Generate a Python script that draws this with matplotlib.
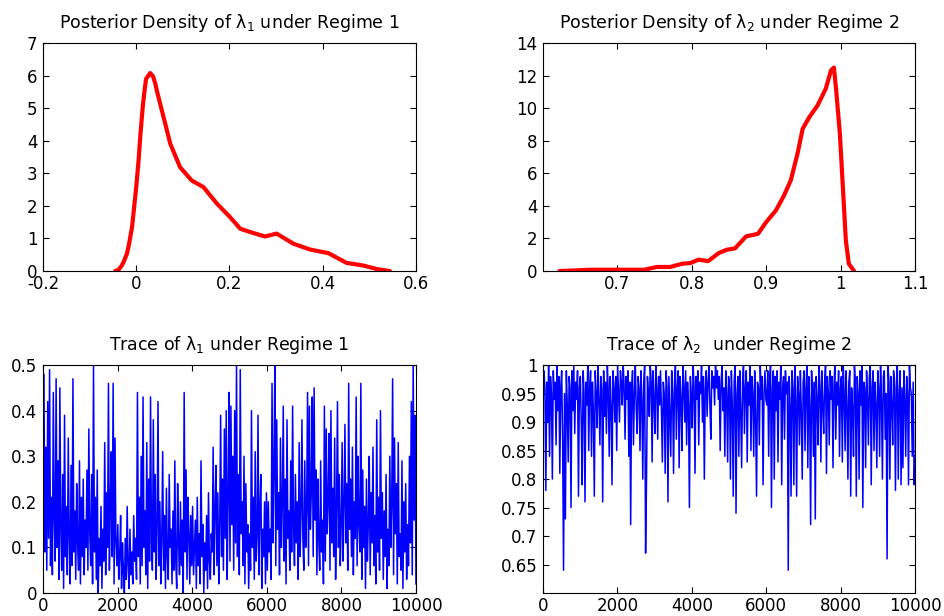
import numpy as np
import matplotlib
matplotlib.use('Agg')
import matplotlib.pyplot as plt

plt.rcParams['font.family'] = ['DejaVu Sans']
plt.rcParams['mathtext.fontset'] = 'dejavusans'
plt.rcParams['mathtext.default'] = 'regular'

# 后验密度曲线
dens1_x = [-0.045, -0.038, -0.031, -0.027, -0.02, -0.016, -0.009, -0.006, 0.0, 0.005,
           0.009, 0.014, 0.017, 0.021, 0.03, 0.036, 0.041, 0.044, 0.055,
           0.073, 0.094, 0.119, 0.144, 0.173, 0.201, 0.223, 0.244, 0.276, 0.301,
           0.337, 0.373, 0.412, 0.451, 0.487, 0.516, 0.544]
dens1_y = [0.0, 0.04, 0.17, 0.28, 0.53, 0.79, 1.35, 1.76, 2.58, 3.4,
           4.2, 5.05, 5.44, 5.9, 6.08, 5.98, 5.75, 5.55, 4.93,
           3.91, 3.19, 2.78, 2.58, 2.07, 1.66, 1.30, 1.20, 1.06, 1.15,
           0.84, 0.66, 0.55, 0.25, 0.17, 0.06, 0.0]

dens2_x = [0.622, 0.664, 0.736, 0.753, 0.771, 0.787, 0.798, 0.809, 0.822, 0.836,
           0.847, 0.858, 0.873, 0.889, 0.900, 0.913, 0.924, 0.933, 0.942, 0.949,
           0.958, 0.969, 0.980, 0.987, 0.991, 0.994, 0.999, 1.003, 1.007, 1.011, 1.018]
dens2_y = [0.0, 0.08, 0.08, 0.25, 0.25, 0.45, 0.49, 0.70, 0.61, 1.10,
           1.31, 1.39, 2.13, 2.29, 3.01, 3.72, 4.65, 5.57, 7.2, 8.74,
           9.46, 10.17, 11.2, 12.32, 12.5, 11.1, 8.43, 5.16, 1.88, 0.45, 0.0]

# 迭代轨迹 (每个值约代表 25 次迭代, 读图估计)
trace1 = [0.18, 0.48, 0.09, 0.32, 0.05, 0.42, 0.12, 0.49, 0.06, 0.21, 0.04, 0.44, 0.16, 0.07, 0.47, 0.10, 0.29, 0.03, 0.45, 0.14,
          0.05, 0.26, 0.01, 0.39, 0.08, 0.19, 0.04, 0.34, 0.12, 0.02, 0.28, 0.06, 0.47, 0.09, 0.18, 0.03, 0.24, 0.11, 0.05, 0.29,
          0.02, 0.21, 0.08, 0.25, 0.04, 0.16, 0.10, 0.27, 0.05, 0.36, 0.13, 0.06, 0.26, 0.02, 0.50, 0.09, 0.21, 0.03, 0.27, 0.00,
          0.12, 0.06, 0.19, 0.01, 0.14, 0.07, 0.33, 0.04, 0.22, 0.10, 0.46, 0.05, 0.19, 0.31, 0.08, 0.46, 0.02, 0.34, 0.11, 0.06,
          0.15, 0.03, 0.08, 0.17, 0.01, 0.11, 0.05, 0.00, 0.12, 0.03, 0.19, 0.06, 0.01, 0.14, 0.04, 0.09, 0.02, 0.17, 0.07, 0.12,
          0.03, 0.44, 0.08, 0.21, 0.02, 0.30, 0.06, 0.43, 0.10, 0.18, 0.04, 0.33, 0.01, 0.25, 0.07, 0.43, 0.12, 0.05, 0.38, 0.09,
          0.26, 0.03, 0.14, 0.42, 0.06, 0.20, 0.02, 0.12, 0.31, 0.05, 0.17, 0.01, 0.23, 0.08, 0.03, 0.26, 0.10, 0.14, 0.02, 0.18,
          0.05, 0.29, 0.07, 0.01, 0.24, 0.11, 0.04, 0.20, 0.06, 0.16, 0.00, 0.44, 0.09, 0.27, 0.03, 0.21, 0.13, 0.02, 0.17, 0.06,
          0.19, 0.04, 0.10, 0.16, 0.01, 0.21, 0.06, 0.13, 0.02, 0.29, 0.08, 0.15, 0.00, 0.11, 0.05, 0.17, 0.01, 0.22, 0.07, 0.03,
          0.13, 0.09, 0.32, 0.04, 0.18, 0.28, 0.06, 0.22, 0.02, 0.14, 0.39, 0.08, 0.25, 0.05, 0.36, 0.12, 0.40, 0.03, 0.21, 0.44,
          0.07, 0.41, 0.15, 0.30, 0.05, 0.40, 0.11, 0.50, 0.08, 0.26, 0.04, 0.49, 0.13, 0.20, 0.06, 0.30, 0.02, 0.24, 0.09, 0.15,
          0.01, 0.13, 0.05, 0.40, 0.10, 0.21, 0.03, 0.31, 0.07, 0.12, 0.39, 0.04, 0.18, 0.26, 0.01, 0.14, 0.08, 0.20, 0.02, 0.22,
          0.05, 0.20, 0.09, 0.14, 0.03, 0.46, 0.11, 0.27, 0.50, 0.06, 0.38, 0.14, 0.22, 0.04, 0.34, 0.10, 0.19, 0.41, 0.07, 0.25,
          0.02, 0.38, 0.12, 0.18, 0.05, 0.29, 0.09, 0.41, 0.15, 0.06, 0.26, 0.11, 0.20, 0.03, 0.33, 0.08, 0.17, 0.38, 0.12, 0.05,
          0.29, 0.10, 0.18, 0.44, 0.06, 0.41, 0.14, 0.22, 0.43, 0.08, 0.45, 0.16, 0.27, 0.04, 0.25, 0.12, 0.05, 0.29, 0.09, 0.16,
          0.02, 0.41, 0.07, 0.36, 0.13, 0.20, 0.35, 0.05, 0.40, 0.11, 0.23, 0.08, 0.34, 0.03, 0.18, 0.42, 0.10, 0.26, 0.06, 0.15,
          0.33, 0.07, 0.19, 0.37, 0.11, 0.24, 0.05, 0.46, 0.14, 0.25, 0.08, 0.32, 0.04, 0.20, 0.12, 0.43, 0.06, 0.30, 0.15, 0.09,
          0.46, 0.03, 0.27, 0.10, 0.19, 0.01, 0.25, 0.07, 0.15, 0.30, 0.04, 0.22, 0.11, 0.32, 0.06, 0.17, 0.02, 0.38, 0.09, 0.21,
          0.05, 0.40, 0.12, 0.22, 0.03, 0.18, 0.08, 0.26, 0.01, 0.14, 0.06, 0.30, 0.10, 0.19, 0.47, 0.04, 0.34, 0.13, 0.24, 0.02,
          0.33, 0.08, 0.13, 0.05, 0.29, 0.01, 0.20, 0.09, 0.24, 0.03, 0.15, 0.06, 0.30, 0.11, 0.42, 0.04, 0.50, 0.16, 0.39, 0.02]

trace2 = [0.93, 0.99, 0.96, 0.78, 0.97, 0.90, 1.00, 0.84, 0.98, 0.95, 0.80, 0.99, 0.94, 0.97, 0.86, 1.00, 0.92, 0.98, 0.81, 0.96,
          0.99, 0.87, 0.64, 0.95, 0.73, 0.99, 0.93, 0.83, 0.98, 0.96, 0.75, 0.99, 0.92, 1.00, 0.88, 0.97, 0.94, 0.99, 0.77, 0.96,
          0.98, 0.90, 0.79, 0.99, 0.95, 0.76, 0.97, 0.93, 1.00, 0.85, 0.96, 0.99, 0.84, 0.97, 0.92, 0.77, 0.99, 0.95, 0.89, 1.00,
          0.94, 0.86, 0.98, 0.96, 0.76, 0.99, 0.91, 0.97, 0.88, 1.00, 0.95, 0.84, 0.98, 0.93, 0.79, 0.99, 0.96, 0.90, 0.98, 0.85,
          1.00, 0.95, 0.90, 0.99, 0.97, 0.93, 1.00, 0.96, 0.87, 0.98, 0.94, 0.99, 0.84, 0.97, 0.72, 0.96, 0.99, 0.86, 0.95, 1.00,
          0.92, 0.88, 0.98, 0.96, 0.85, 0.99, 0.94, 0.80, 0.97, 1.00, 0.67, 0.80, 0.98, 0.95, 0.91, 1.00, 0.97, 0.83, 0.99, 0.94,
          0.88, 1.00, 0.96, 0.87, 0.98, 0.93, 0.99, 0.92, 0.83, 0.97, 0.95, 0.81, 0.99, 0.96, 0.76, 0.98, 0.91, 0.84, 0.99, 0.95,
          0.81, 0.97, 1.00, 0.87, 0.96, 0.99, 0.82, 0.98, 0.94, 0.85, 1.00, 0.96, 0.90, 0.99, 0.86, 0.97, 0.93, 0.75, 0.98, 0.95,
          0.89, 1.00, 0.96, 0.81, 0.98, 0.94, 0.99, 0.86, 0.97, 0.95, 1.00, 0.90, 0.98, 0.80, 0.96, 0.99, 0.91, 0.97, 1.00, 0.93,
          0.87, 0.99, 0.96, 0.98, 0.93, 1.00, 0.96, 0.99, 0.94, 0.98, 0.85, 0.97, 1.00, 0.92, 0.96, 0.84, 0.99, 0.95, 0.83, 0.98,
          0.96, 0.80, 0.99, 0.93, 0.77, 0.97, 1.00, 0.74, 0.95, 0.98, 0.84, 0.99, 0.92, 0.82, 0.97, 1.00, 0.88, 0.96, 0.99, 0.83,
          0.97, 0.93, 1.00, 0.85, 0.98, 0.95, 0.84, 0.99, 0.91, 0.77, 0.97, 0.96, 0.86, 1.00, 0.94, 0.98, 0.79, 0.95, 0.99, 0.94,
          0.93, 0.99, 0.84, 0.97, 1.00, 0.75, 0.96, 0.99, 0.80, 0.98, 0.92, 0.99, 0.83, 0.97, 0.94, 1.00, 0.79, 0.96, 0.98, 0.87,
          0.99, 0.95, 0.97, 0.64, 0.98, 0.93, 0.77, 0.99, 0.96, 0.79, 1.00, 0.94, 0.77, 0.98, 0.95, 0.86, 0.99, 0.92, 0.80, 0.97,
          0.99, 0.85, 0.96, 1.00, 0.82, 0.98, 0.93, 0.72, 0.99, 0.95, 0.84, 0.97, 0.73, 0.98, 0.94, 0.86, 1.00, 0.96, 0.83, 0.99,
          0.93, 0.88, 0.97, 1.00, 0.81, 0.98, 0.95, 0.86, 0.99, 0.94, 0.98, 0.82, 0.96, 1.00, 0.87, 0.97, 0.93, 0.99, 0.84, 0.96,
          0.98, 0.83, 1.00, 0.95, 0.85, 0.99, 0.93, 0.80, 0.97, 0.99, 0.77, 0.96, 0.92, 0.84, 1.00, 0.97, 0.77, 0.98, 0.95, 0.80,
          0.99, 0.93, 1.00, 0.75, 0.97, 0.96, 0.82, 0.99, 0.94, 0.86, 0.98, 1.00, 0.79, 0.96, 0.99, 0.85, 0.97, 0.93, 0.82, 0.99,
          0.96, 0.84, 1.00, 0.94, 0.80, 0.98, 0.99, 0.87, 0.95, 0.66, 1.00, 0.97, 0.80, 0.98, 0.93, 0.86, 0.99, 0.96, 0.78, 0.97,
          1.00, 0.80, 0.95, 0.99, 0.79, 0.96, 0.82, 0.99, 0.94, 0.84, 0.98, 0.95, 0.79, 1.00, 0.96, 0.95, 0.84, 0.97, 0.79, 0.84]

n_iter = 10000


def style(ax):
    ax.tick_params(direction='in', top=True, right=True, length=4, width=0.8,
                   labelsize=12)
    ax.tick_params(axis='x', pad=3)
    ax.tick_params(axis='y', pad=4)
    for s in ax.spines.values():
        s.set_linewidth(0.8)


fig = plt.figure(figsize=(9.45, 6.16), dpi=100)
ax1 = fig.add_axes([0.0455, 0.560, 0.3947, 0.370])
ax2 = fig.add_axes([0.5746, 0.560, 0.3937, 0.370])
ax3 = fig.add_axes([0.0455, 0.0373, 0.3947, 0.370])
ax4 = fig.add_axes([0.5746, 0.0373, 0.3937, 0.370])

ax1.plot(dens1_x, dens1_y, color='red', linewidth=3, solid_capstyle='round', solid_joinstyle='round')
ax1.set_xlim(-0.2, 0.6)
ax1.set_ylim(0, 7)
ax1.set_xticks([-0.2, 0, 0.2, 0.4, 0.6])
ax1.set_xticklabels(['-0.2', '0', '0.2', '0.4', '0.6'])
ax1.set_yticks(range(0, 8))
ax1.set_title(r'Posterior Density of $\lambda_1$ under Regime 1', fontsize=12.5, pad=11)

ax2.plot(dens2_x, dens2_y, color='red', linewidth=3, solid_capstyle='round', solid_joinstyle='round')
ax2.set_xlim(0.6, 1.1)
ax2.set_ylim(0, 14)
ax2.set_xticks([0.7, 0.8, 0.9, 1.0, 1.1])
ax2.set_xticklabels(['0.7', '0.8', '0.9', '1', '1.1'])
ax2.set_yticks(range(0, 15, 2))
ax2.set_title(r'Posterior Density of $\lambda_2$ under Regime 2', fontsize=12.5, pad=11)

it1 = np.linspace(1, n_iter, len(trace1))
ax3.plot(it1, trace1, color='blue', linewidth=1.1)
ax3.set_xlim(0, n_iter)
ax3.set_ylim(0, 0.5)
ax3.set_xticks(range(0, 10001, 2000))
ax3.set_yticks([0, 0.1, 0.2, 0.3, 0.4, 0.5])
ax3.set_yticklabels(['0', '0.1', '0.2', '0.3', '0.4', '0.5'])
ax3.set_title(r'Trace of $\lambda_1$ under Regime 1', fontsize=12.5, pad=11)

it2 = np.linspace(1, n_iter, len(trace2))
ax4.plot(it2, trace2, color='blue', linewidth=1.1)
ax4.set_xlim(0, n_iter)
ax4.set_ylim(0.6, 1.0)
ax4.set_xticks(range(0, 10001, 2000))
ax4.set_yticks([0.65, 0.7, 0.75, 0.8, 0.85, 0.9, 0.95, 1.0])
ax4.set_yticklabels(['0.65', '0.7', '0.75', '0.8', '0.85', '0.9', '0.95', '1'])
ax4.set_title(r'Trace of $\lambda_2$  under Regime 2', fontsize=12.5, pad=11)

for ax in (ax1, ax2, ax3, ax4):
    style(ax)

fig.savefig('out.png', dpi=100)
